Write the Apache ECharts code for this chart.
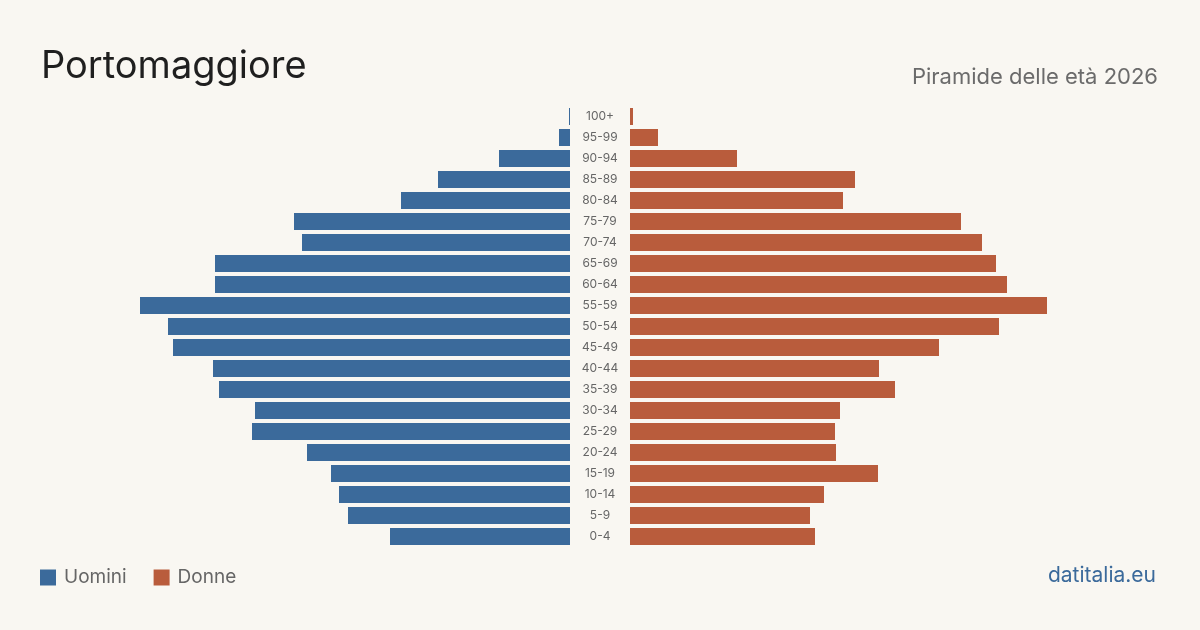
<!DOCTYPE html>
<html>
<head>
<meta charset="utf-8">
<script src="https://cdn.jsdelivr.net/npm/echarts@6/dist/echarts.min.js"></script>
<style>
  html, body { margin: 0; padding: 0; background: #f9f7f2; }
  #chart { width: 1200px; height: 630px; }
</style>
</head>
<body>
<div id="chart"></div>
<script>
// classi di età, dall'alto verso il basso
const ageGroups = ['100+', '95-99', '90-94', '85-89', '80-84', '75-79', '70-74', '65-69', '60-64', '55-59',
    '50-54', '45-49', '40-44', '35-39', '30-34', '25-29', '20-24', '15-19', '10-14', '5-9', '0-4'];
const uomini = [1, 11, 71, 132, 169, 276, 268, 355, 355, 430,
    402, 397, 357, 351, 315, 318, 263, 239, 231, 222, 180];
const donne = [3, 28, 107, 225, 213, 331, 352, 366, 377, 417,
    369, 309, 249, 265, 210, 205, 206, 248, 194, 180, 185];

const BLUE = '#3b6a9b';
const ORANGE = '#b95c3c';
const maxVal = 450;

const chart = echarts.init(document.getElementById('chart'));
chart.setOption({
    backgroundColor: '#f9f7f2',
    textStyle: { fontFamily: 'Inter' },
    animation: false,
    title: [{
        text: 'Portomaggiore',
        left: 41,
        top: 48,
        padding: 0,
        textStyle: { fontSize: 38, fontWeight: 'normal', color: '#1f1f1f', fontFamily: 'Inter' }
    }, {
        text: 'Piramide delle età 2026',
        right: 42,
        top: 66,
        padding: 0,
        textStyle: { fontSize: 22, fontWeight: 'normal', color: '#6b6b6b', fontFamily: 'Inter' }
    }],
    legend: {
        left: 40,
        top: 568,
        padding: 0,
        itemWidth: 16,
        itemHeight: 16,
        itemGap: 27,
        icon: 'rect',
        textStyle: { fontSize: 19, color: '#666', fontFamily: 'Inter', padding: [0, 0, 0, 3] },
        data: ['Uomini', 'Donne']
    },
    graphic: [{
        type: 'text',
        right: 44,
        top: 565,
        style: { text: 'datitalia.eu', fontSize: 21, fill: BLUE, fontFamily: 'Inter' }
    }],
    grid: [
        { left: 570 - maxVal, width: maxVal, top: 106, height: 441 },
        { left: 630, width: maxVal, top: 106, height: 441 }
    ],
    xAxis: [
        { gridIndex: 0, type: 'value', min: 0, max: maxVal, inverse: true, show: false },
        { gridIndex: 1, type: 'value', min: 0, max: maxVal, show: false }
    ],
    yAxis: [
        { gridIndex: 0, type: 'category', data: ageGroups, inverse: true, show: false },
        {
            gridIndex: 1, type: 'category', data: ageGroups, inverse: true, position: 'left',
            axisLine: { show: false }, axisTick: { show: false },
            axisLabel: { align: 'center', margin: 30, fontSize: 12, color: '#666', fontFamily: 'Inter' }
        }
    ],
    series: [{
        name: 'Uomini',
        type: 'bar',
        xAxisIndex: 0,
        yAxisIndex: 0,
        barWidth: 17,
        data: uomini,
        itemStyle: { color: BLUE }
    }, {
        name: 'Donne',
        type: 'bar',
        xAxisIndex: 1,
        yAxisIndex: 1,
        barWidth: 17,
        data: donne,
        itemStyle: { color: ORANGE }
    }]
});
</script>
</body>
</html>
